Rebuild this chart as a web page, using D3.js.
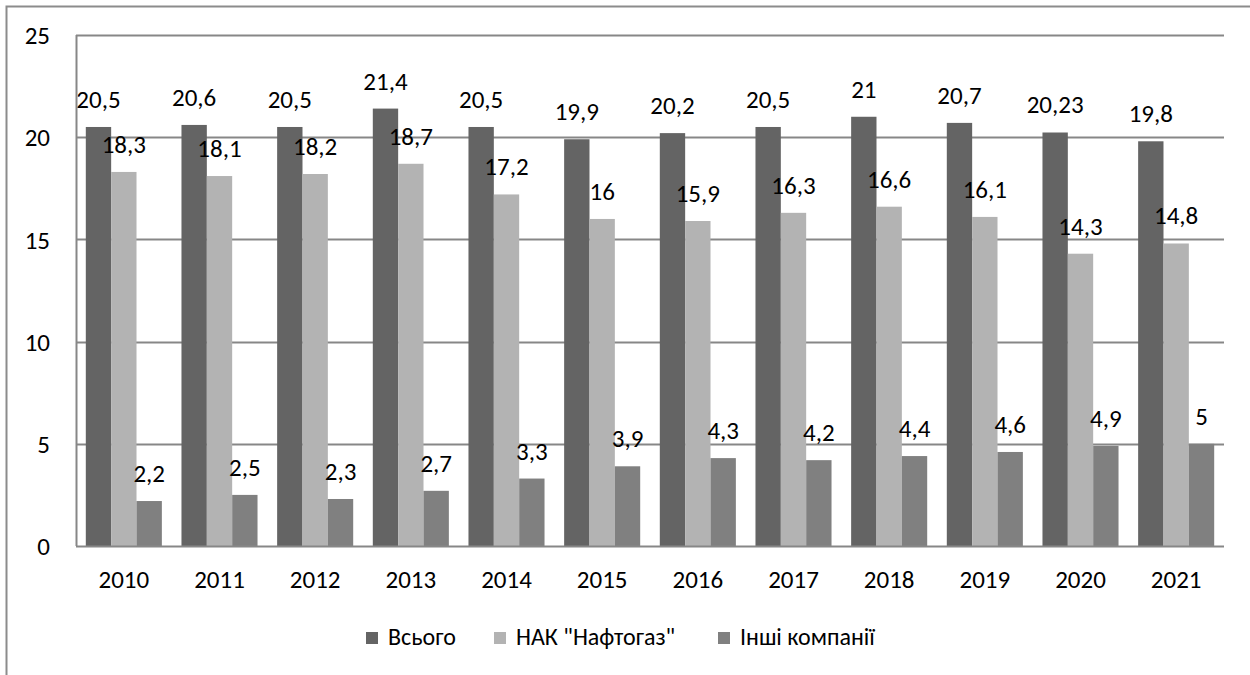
<!DOCTYPE html>
<html>
<head>
<meta charset="utf-8">
<script src="https://cdn.jsdelivr.net/npm/d3@7"></script>
<style>
  body { margin: 0; background: #fff; }
  svg text { font-family: Carlito, Lato, "Open Sans", sans-serif; fill: #000; }
</style>
</head>
<body>
<svg id="chart" width="1250" height="675"></svg>
<script>
const years = ['2010', '2011', '2012', '2013', '2014', '2015', '2016', '2017', '2018', '2019', '2020', '2021'];
const seriesNames = ['Всього', 'НАК "Нафтогаз"', 'Інші компанії'];
const total = [20.5, 20.6, 20.5, 21.4, 20.5, 19.9, 20.2, 20.5, 21, 20.7, 20.23, 19.8];
const naftogaz = [18.3, 18.1, 18.2, 18.7, 17.2, 16, 15.9, 16.3, 16.6, 16.1, 14.3, 14.8];
const others = [2.2, 2.5, 2.3, 2.7, 3.3, 3.9, 4.3, 4.2, 4.4, 4.6, 4.9, 5];
const yTicks = [0, 5, 10, 15, 20, 25];
const colors = ['#646464', '#b3b3b3', '#808080'];

var config = {
  left: 76,
  right: 1224,
  top: 35,
  bottom: 546,
  fontSize: 25
};

const svg = d3.select('#chart');

// outer frame
svg.append('rect')
  .attr('x', 6.5).attr('y', 6.5)
  .attr('width', 1260).attr('height', 700)
  .attr('fill', 'none')
  .attr('stroke', '#8c8c8c')
  .attr('stroke-width', 2);

const x = d3.scaleBand()
  .domain(years)
  .range([config.left, config.right])
  .paddingInner(0.205)
  .paddingOuter(0.1025);

const xs = d3.scaleBand()
  .domain(d3.range(3))
  .range([0, x.bandwidth()]);

const y = d3.scaleLinear()
  .domain([0, 25])
  .range([config.bottom, config.top]);

// grid lines
svg.append('g')
  .selectAll('line')
  .data(yTicks.filter(t => t > 0))
  .enter().append('line')
  .attr('x1', config.left).attr('x2', config.right)
  .attr('y1', d => Math.round(y(d)) + 0.5)
  .attr('y2', d => Math.round(y(d)) + 0.5)
  .attr('stroke', '#878787')
  .attr('stroke-width', 2);

// y axis labels
const yAxis = svg.append('g')
  .attr('transform', 'translate(' + config.left + ',0)')
  .call(d3.axisLeft(y).tickValues(yTicks).tickSize(0).tickPadding(26).tickFormat(d3.format('d')));
yAxis.select('.domain').remove();
yAxis.selectAll('text')
  .style('font-size', config.fontSize + 'px')
  .attr('dy', '0.35em');

const rows = years.map((yr, i) => ({ year: yr, values: [total[i], naftogaz[i], others[i]] }));

const groups = svg.append('g')
  .selectAll('g')
  .data(rows)
  .enter().append('g')
  .attr('transform', d => 'translate(' + x(d.year) + ',0)');

groups.selectAll('rect')
  .data(d => d.values.map((v, k) => ({ k: k, v: v })))
  .enter().append('rect')
  .attr('x', d => xs(d.k))
  .attr('width', xs.bandwidth())
  .attr('y', d => y(d.v))
  .attr('height', d => y(0) - y(d.v))
  .attr('fill', d => colors[d.k]);

groups.selectAll('text')
  .data(d => d.values.map((v, k) => ({ k: k, v: v })))
  .enter().append('text')
  .attr('x', d => xs(d.k) + xs.bandwidth() / 2)
  .attr('y', d => y(d.v) - 19)
  .attr('text-anchor', 'middle')
  .style('font-size', config.fontSize + 'px')
  .text(d => String(d.v).replace('.', ','));

// axes lines
svg.append('line')
  .attr('x1', config.left + 0.5).attr('x2', config.left + 0.5)
  .attr('y1', config.top).attr('y2', config.bottom)
  .attr('stroke', '#878787').attr('stroke-width', 2);
svg.append('line')
  .attr('x1', config.left).attr('x2', config.right)
  .attr('y1', config.bottom + 0.5).attr('y2', config.bottom + 0.5)
  .attr('stroke', '#878787').attr('stroke-width', 2);

// x axis labels
const xAxis = svg.append('g')
  .attr('transform', 'translate(0,' + config.bottom + ')')
  .call(d3.axisBottom(x).tickSize(0).tickPadding(24));
xAxis.select('.domain').remove();
xAxis.selectAll('text').style('font-size', config.fontSize + 'px');

// legend
const legendX = [366, 494, 718];
const legend = svg.append('g')
  .selectAll('g')
  .data(seriesNames)
  .enter().append('g')
  .attr('transform', (d, i) => 'translate(' + legendX[i] + ',632)');
legend.append('rect')
  .attr('width', 12).attr('height', 12)
  .attr('fill', (d, i) => colors[i]);
legend.append('text')
  .attr('x', 22).attr('y', 13)
  .style('font-size', '24px')
  .text(d => d);
</script>
</body>
</html>
